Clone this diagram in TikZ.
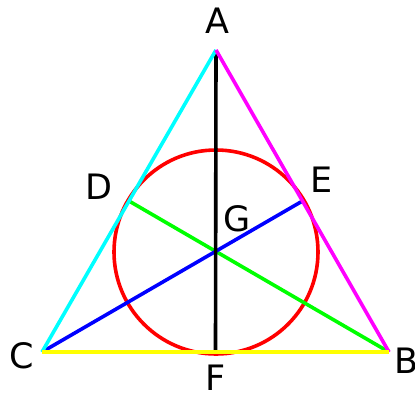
\documentclass[tikz,border=0pt]{standalone}
\usepackage{fontspec}
\setmainfont{DejaVu Sans}
\usepackage{tikz}
\usetikzlibrary{calc}
\definecolor{LineCyan}{RGB}{0,255,255}
\definecolor{LineMagenta}{RGB}{255,0,255}
\definecolor{LineYellow}{RGB}{255,255,0}
\definecolor{LineGreen}{RGB}{0,255,0}
\definecolor{LineBlue}{RGB}{0,0,255}
\definecolor{LineRed}{RGB}{255,0,0}

\begin{document}
\begin{tikzpicture}[
  x=1pt, y=-1pt,
  edge/.style={line width=3.6pt},
  pointlabel/.style={
    inner sep=0pt,
    font=\fontsize{35}{35}\selectfont
  }
]
\useasboundingbox (0,0) rectangle (415,394);

\coordinate (A) at (216,50);
\coordinate (C) at (42,352);
\coordinate (B) at (389,352);
\coordinate (F) at ($(C)!0.5!(B)$);
\coordinate (D) at ($(A)!0.5!(C)$);
\coordinate (E) at ($(A)!0.5!(B)$);
\coordinate (G) at (216,252);

\node[pointlabel] (labA) at (217,21) {A};
\node[pointlabel] (labB) at (407,361) {B};
\node[pointlabel] (labC) at (22,356) {C};
\node[pointlabel] (labD) at (99,187) {D};
\node[pointlabel] (labE) at (322,180) {E};
\node[pointlabel] (labF) at (216,378) {F};
\node[pointlabel] (labG) at (237,219) {G};

\draw[edge, LineRed] (G) circle[radius=102];
\draw[edge, LineGreen] (D) -- (B);
\draw[edge, LineBlue] (C) -- (E);
\draw[edge, black] (A) -- (F);
\draw[edge, LineCyan] (A) -- (C);
\draw[edge, LineMagenta] (A) -- (B);
\draw[edge, LineYellow] (C) -- (B);
\end{tikzpicture}
\end{document}
